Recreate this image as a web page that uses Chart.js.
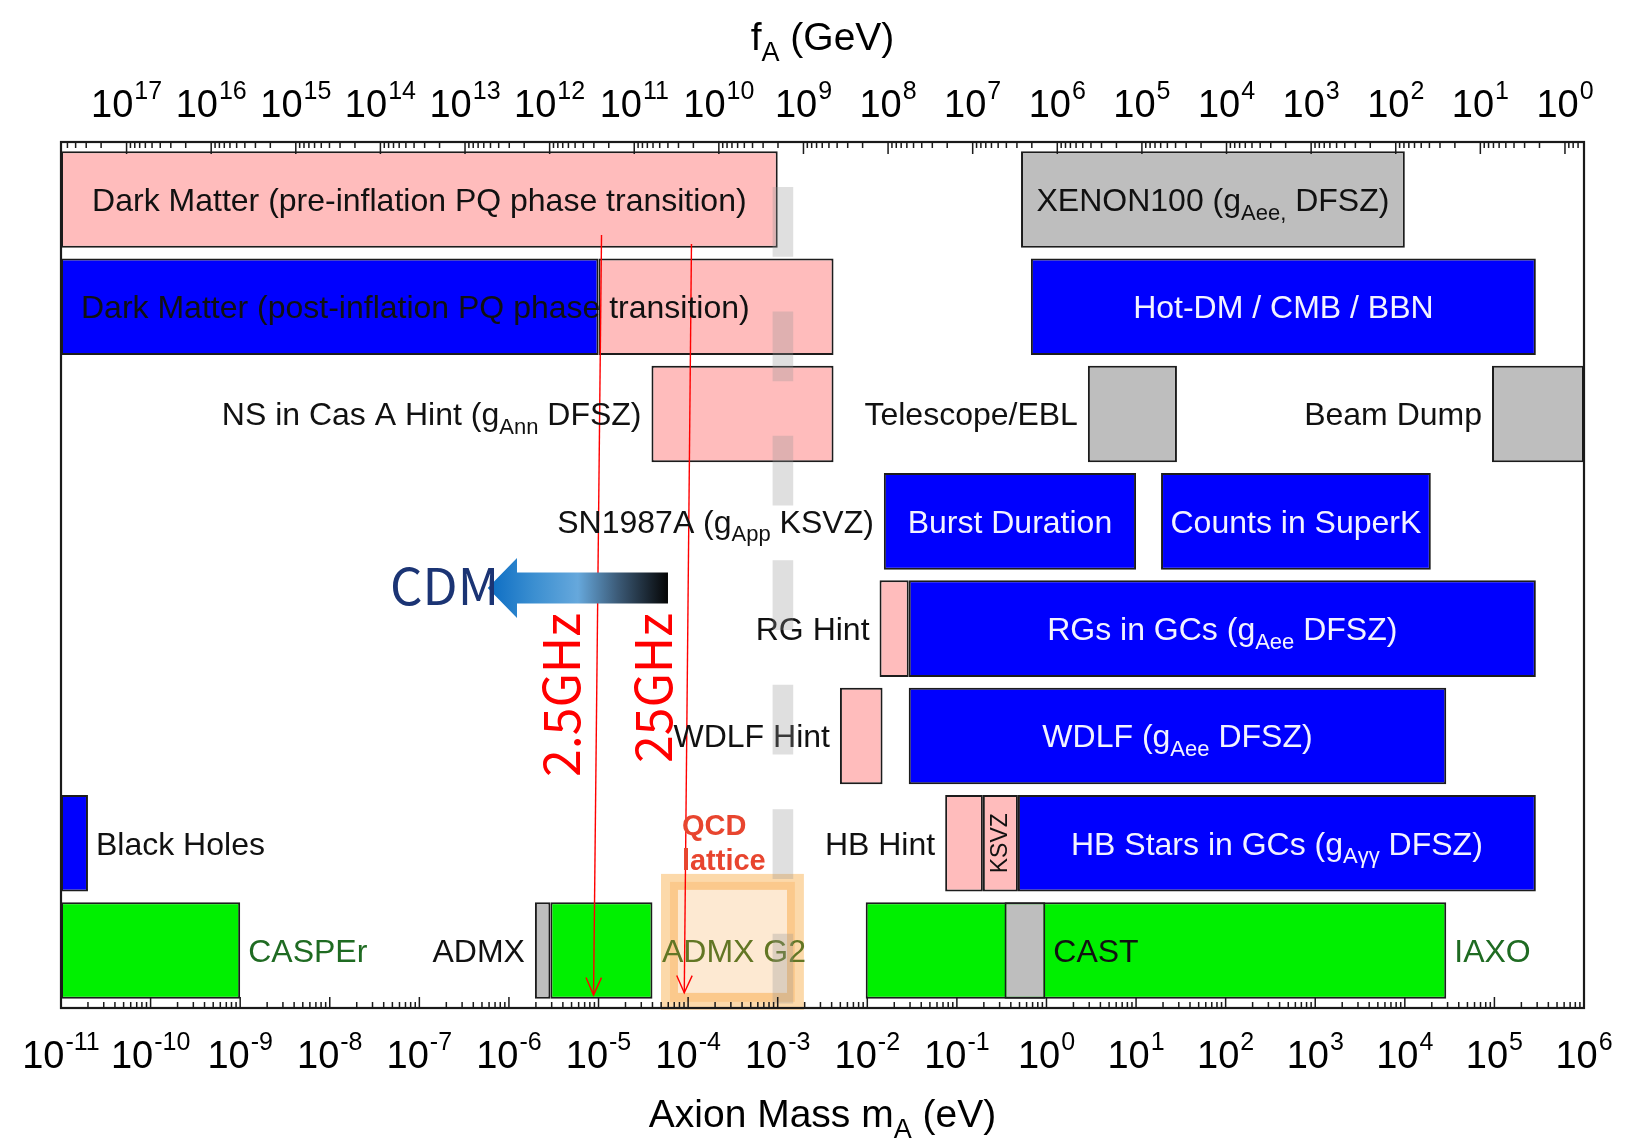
<!DOCTYPE html>
<html><head><meta charset="utf-8">
<script src="https://cdn.jsdelivr.net/npm/chart.js@4.4.1/dist/chart.umd.min.js"></script>
<style>html,body{margin:0;padding:0;background:#fff;}canvas{display:block;}</style>
</head><body>
<canvas id="c" width="1626" height="1146"></canvas>
<script>
// ---------------- DATA ----------------
const rowNames = ['Dark matter (pre-inflation) / XENON100', 'Dark matter (post-inflation) / Hot-DM', 'NS Cas A / Telescope / Beam dump', 'SN1987A', 'Red giants', 'White dwarfs', 'Black holes / HB stars', 'Haloscopes / helioscopes'];

const barNames = ['DM pre-inflation', 'XENON100', 'DM post-inflation (excluded)', 'DM post-inflation', 'Hot-DM / CMB / BBN', 'NS in Cas A Hint', 'Telescope/EBL', 'Beam Dump', 'Burst Duration', 'Counts in SuperK', 'RG Hint', 'RGs in GCs', 'WDLF Hint', 'WDLF', 'Black Holes', 'HB Hint', 'HB Hint KSVZ', 'HB Stars in GCs', 'CASPEr', 'ADMX', 'ADMX (projected)', 'IAXO', 'CAST'];
const barRow  = [0, 0, 1, 1, 1, 2, 2, 2, 3, 3, 4, 4, 5, 5, 6, 6, 6, 6, 7, 7, 7, 7, 7];
const barFrom = [1e-11, 0.52, 1e-11, 1e-5, 0.67, 3.9e-5, 2.9, 9.4e4, 0.0153, 19, 0.0137, 0.029, 4.95e-3, 0.029, 1e-11, 0.074, 0.195, 0.48, 1e-11, 1.95e-6, 2.9e-6, 0.0096, 0.34];
const barTo   = [1e-3, 1e4, 1e-5, 4.2e-3, 2.9e5, 4.2e-3, 28.6, 1e6, 10, 1.95e4, 0.029, 2.9e5, 0.0148, 2.9e4, 2e-11, 0.195, 0.48, 2.9e5, 1e-9, 2.9e-6, 4e-5, 2.9e4, 0.97];
const barKind = ['dm', 'lab', 'excl', 'dm', 'excl', 'hint', 'lab', 'lab', 'excl', 'excl', 'hint', 'excl', 'hint', 'excl', 'excl', 'hint', 'hint', 'excl', 'future', 'lab', 'future', 'future', 'lab'];

const labelText = ['Dark Matter (pre-inflation PQ phase transition)', 'XENON100 (g_{Aee,} DFSZ)', 'Dark Matter (post-inflation PQ phase transition)', 'Hot-DM / CMB / BBN', 'NS in Cas A Hint (g_{Ann} DFSZ)', 'Telescope/EBL', 'Beam Dump', 'SN1987A (g_{App} KSVZ)', 'Burst Duration', 'Counts in SuperK', 'RG Hint', 'RGs in GCs (g_{Aee} DFSZ)', 'WDLF Hint', 'WDLF (g_{Aee} DFSZ)', 'Black Holes', 'HB Hint', 'KSVZ', 'HB Stars in GCs (g_{Aγγ} DFSZ)', 'CASPEr', 'ADMX', 'CAST', 'IAXO'];
const labelBar  = [0, 1, 2, 4, 5, 6, 7, 8, 8, 9, 10, 11, 12, 13, 14, 15, 16, 17, 18, 19, 22, 21];

const massTickExps = [-11, -10, -9, -8, -7, -6, -5, -4, -3, -2, -1, 0, 1, 2, 3, 4, 5, 6];
const faTickExps = [17, 16, 15, 14, 13, 12, 11, 10, 9, 8, 7, 6, 5, 4, 3, 2, 1, 0];

const freqLabels = ['2.5GHz', '25GHz'];
const freqMassTop = [1.08e-5, 1.09e-4];
const freqMassBottom = [8.8e-6, 9.06e-5];

// ---------------- LAYOUT / STYLE ----------------
const FONT = '"Liberation Sans", Arial, Helvetica, sans-serif';
const CJK = '"Noto Sans CJK JP", "Noto Sans", sans-serif';
const kindColors = { dm: '#ffbcbc', hint: '#ffbcbc', excl: '#0000fe', lab: '#bebebe', future: '#00f000' };
const labelPlace = ['in', 'in', 'inLeft', 'in', 'left', 'left', 'left', 'left', 'in', 'in', 'left', 'in', 'left', 'in', 'right', 'left', 'vert', 'in', 'right', 'left', 'right', 'right'];
const labelTone  = ['dark', 'dark', 'dark', 'light', 'dark', 'dark', 'dark', 'dark', 'light', 'light', 'dark', 'light', 'dark', 'light', 'dark', 'dark', 'dark', 'light', 'green', 'dark', 'dark', 'green'];
const toneColor = { dark: '#111111', light: '#f3f3ff', green: '#1f6b22' };
const overlayBars = [22];
const freqRowTop = [0.331, 0.415], freqRowBottom = [7.414, 7.395];
const freqTextMass = [6.2e-6, 6.6e-5], freqTextRowEnd = 3.854;
const cdmArrow = { tip: 5.8e-7, headBack: 1.23e-6, tail: 5.96e-5, row: 3.621, headHalf: 0.28, shaftHalf: 0.144 };
const cdmText = { mass: 1.91e-7, row: 3.779 };
const qcdBox = { from: 4.98e-5, to: 1.96e-3, rowTop: 6.286, rowBottom: 7.553, innerFrom: 7.7e-5, innerTo: 1.27e-3, innerTop: 6.435, innerBottom: 7.395 };
const qcdText = { mass: 8.53e-5, row1: 5.923, row2: 6.249 };
const bandMass = [8.77e-4, 1.49e-3], bandStartRow = -0.117, bandDash = 0.65, bandGap = 0.51;

// ---------------- HELPERS ----------------
function parseRich(s) {
  const out = []; const re = /_\{([^}]*)\}/g; let last = 0, m;
  while ((m = re.exec(s))) {
    if (m.index > last) out.push({ t: s.slice(last, m.index), sub: false });
    out.push({ t: m[1], sub: true }); last = re.lastIndex;
  }
  if (last < s.length) out.push({ t: s.slice(last), sub: false });
  return out;
}
function drawRich(ctx, s, x, y, align, size, color, family) {
  const segs = parseRich(s); const subSize = Math.round(size * 0.7);
  const f = sb => `${sb ? subSize : size}px ${family || FONT}`;
  let w = 0;
  segs.forEach(sg => { ctx.font = f(sg.sub); sg.w = ctx.measureText(sg.t).width; w += sg.w; });
  let cx = align === 'center' ? x - w / 2 : align === 'right' ? x - w : x;
  ctx.fillStyle = color; ctx.textAlign = 'left'; ctx.textBaseline = 'alphabetic';
  segs.forEach(sg => { ctx.font = f(sg.sub); ctx.fillText(sg.t, cx, y + (sg.sub ? size * 0.27 : 0)); cx += sg.w; });
}
// "10" with a raised exponent, centred on x
function drawPow(ctx, x, baseline, exp, size) {
  const es = Math.round(size * 0.66), e = String(exp);
  ctx.font = `${size}px ${FONT}`; const wb = ctx.measureText('10').width;
  ctx.font = `${es}px ${FONT}`; const we = ctx.measureText(e).width;
  const start = x - (wb + 1 + we) / 2;
  ctx.fillStyle = '#000'; ctx.textAlign = 'left'; ctx.textBaseline = 'alphabetic';
  ctx.font = `${size}px ${FONT}`; ctx.fillText('10', start, baseline);
  ctx.font = `${es}px ${FONT}`; ctx.fillText(e, start + wb + 1, baseline - size * 0.47);
}

// ---------------- DATASETS ----------------
const datasets = [];
freqLabels.forEach((name, i) => datasets.push({
  type: 'line', label: name, indexAxis: 'x', xAxisID: 'x', yAxisID: 'y',
  data: [{ x: freqMassTop[i], y: freqRowTop[i] }, { x: freqMassBottom[i], y: freqRowBottom[i] }],
  borderColor: '#ff0000', borderWidth: 1.4, pointRadius: 0, fill: false, tension: 0, order: 0
}));
barNames.forEach((name, i) => datasets.push({
  type: 'bar', label: name, indexAxis: 'y', xAxisID: 'x', yAxisID: 'y',
  data: [{ y: barRow[i], x: [barFrom[i], barTo[i]] }],
  backgroundColor: kindColors[barKind[i]], borderColor: '#1c1c1c', borderWidth: 2, borderSkipped: false,
  grouped: false, barPercentage: 0.9, categoryPercentage: 1, order: overlayBars.includes(i) ? 1 : 2
}));

// ---------------- PLUGIN ----------------
const decor = {
  id: 'decor',
  beforeDatasetsDraw(chart) {
    const ctx = chart.ctx, X = chart.scales.x, Y = chart.scales.y, a = chart.chartArea;
    const px = v => X.getPixelForValue(v), py = v => Y.getPixelForValue(v);
    ctx.save();
    ctx.beginPath(); ctx.rect(a.left, a.top, a.right - a.left, a.bottom - a.top + 3); ctx.clip();
    const x0 = px(qcdBox.from), x1 = px(qcdBox.to), y0 = py(qcdBox.rowTop), y1 = py(qcdBox.rowBottom);
    const ix0 = px(qcdBox.innerFrom), ix1 = px(qcdBox.innerTo), iy0 = py(qcdBox.innerTop), iy1 = py(qcdBox.innerBottom);
    ctx.fillStyle = '#fcd9aa'; ctx.fillRect(x0, y0, x1 - x0, y1 - y0);
    ctx.fillStyle = '#fbc98c'; ctx.fillRect(x0 + 9, y0 + 8, x1 - x0 - 18, y1 - y0 - 16);
    ctx.fillStyle = '#fde9d2'; ctx.fillRect(ix0, iy0, ix1 - ix0, iy1 - iy0);
    ctx.restore();
    ctx.save();
    drawRich(ctx, 'ADMX G2', px(qcdBox.from) + 1, py(7) + 11.4, 'left', 32, '#627624');
    ctx.restore();
  },
  afterDatasetsDraw(chart) {
    const ctx = chart.ctx, X = chart.scales.x, Y = chart.scales.y, T = chart.scales.x2, a = chart.chartArea;
    const px = v => X.getPixelForValue(v), py = v => Y.getPixelForValue(v);
    const rowPx = py(1) - py(0);
    ctx.save();
    // bar labels
    labelText.forEach((txt, i) => {
      const b = labelBar[i], xs = px(barFrom[b]), xe = px(barTo[b]), yc = py(barRow[b]);
      const col = toneColor[labelTone[i]], pl = labelPlace[i], size = 32, yb = yc + 11.4;
      if (pl === 'in') drawRich(ctx, txt, (xs + xe) / 2, yb, 'center', size, col);
      else if (pl === 'inLeft') drawRich(ctx, txt, xs + 20, yb, 'left', size, col);
      else if (pl === 'left') drawRich(ctx, txt, xs - 10, yb, 'right', size, col);
      else if (pl === 'right') drawRich(ctx, txt, xe + 8, yb, 'left', size, col);
      else if (pl === 'vert') {
        ctx.save(); ctx.translate((xs + xe) / 2, yc); ctx.rotate(-Math.PI / 2);
        ctx.font = `23px ${FONT}`; ctx.fillStyle = col; ctx.textAlign = 'center'; ctx.textBaseline = 'middle';
        ctx.fillText(txt, 0, 0); ctx.restore();
      }
    });
    // grey dashed band
    ctx.save();
    ctx.beginPath(); ctx.rect(a.left, a.top, a.right - a.left, a.bottom - a.top); ctx.clip();
    const bx0 = px(bandMass[0]), bx1 = px(bandMass[1]);
    ctx.strokeStyle = 'rgba(150,150,150,0.3)'; ctx.lineWidth = bx1 - bx0;
    ctx.setLineDash([bandDash * rowPx, bandGap * rowPx]);
    ctx.beginPath(); ctx.moveTo((bx0 + bx1) / 2, py(bandStartRow)); ctx.lineTo((bx0 + bx1) / 2, a.bottom); ctx.stroke();
    ctx.restore();
    // arrowheads on frequency lines
    ctx.strokeStyle = '#ff0000'; ctx.lineWidth = 1.4;
    freqLabels.forEach((n, i) => {
      const tx = px(freqMassBottom[i]), ty = py(freqRowBottom[i]);
      const sx = px(freqMassTop[i]), sy = py(freqRowTop[i]);
      const ang = Math.atan2(ty - sy, tx - sx), L = 19, W = 0.42;
      ctx.beginPath();
      ctx.moveTo(tx - L * Math.cos(ang - W), ty - L * Math.sin(ang - W));
      ctx.lineTo(tx, ty);
      ctx.lineTo(tx - L * Math.cos(ang + W), ty - L * Math.sin(ang + W));
      ctx.stroke();
    });
    // frequency labels
    freqLabels.forEach((n, i) => {
      ctx.save(); ctx.translate(px(freqTextMass[i]), py(freqTextRowEnd)); ctx.rotate(-Math.PI / 2);
      ctx.font = `50px ${CJK}`; ctx.fillStyle = '#ff0000'; ctx.textAlign = 'right'; ctx.textBaseline = 'alphabetic';
      ctx.fillText(n, 0, 0); ctx.restore();
    });
    // CDM arrow
    const tip = px(cdmArrow.tip), back = px(cdmArrow.headBack), tail = px(cdmArrow.tail), cy = py(cdmArrow.row);
    const hh = cdmArrow.headHalf * rowPx, sh = cdmArrow.shaftHalf * rowPx;
    const g = ctx.createLinearGradient(tip, 0, tail, 0);
    g.addColorStop(0, '#0b6cc3'); g.addColorStop(0.25, '#3a8ed0'); g.addColorStop(0.5, '#66a8dc');
    g.addColorStop(0.72, '#3c5b78'); g.addColorStop(1, '#050505');
    ctx.fillStyle = g; ctx.beginPath();
    ctx.moveTo(tip, cy); ctx.lineTo(back, cy - hh); ctx.lineTo(back, cy - sh); ctx.lineTo(tail, cy - sh);
    ctx.lineTo(tail, cy + sh); ctx.lineTo(back, cy + sh); ctx.lineTo(back, cy + hh); ctx.closePath(); ctx.fill();
    ctx.font = `51px ${CJK}`; ctx.fillStyle = '#1b3474'; ctx.textAlign = 'center'; ctx.textBaseline = 'alphabetic';
    ctx.fillText('CDM', px(cdmText.mass), py(cdmText.row));
    // QCD lattice text
    ctx.font = `bold 29px ${FONT}`; ctx.fillStyle = '#e8452f'; ctx.textAlign = 'left';
    ctx.fillText('QCD', px(qcdText.mass), py(qcdText.row1));
    ctx.fillText('lattice', px(qcdText.mass), py(qcdText.row2));
    // frame
    ctx.strokeStyle = '#1a1a1a'; ctx.lineWidth = 2.2;
    ctx.strokeRect(a.left, a.top, a.right - a.left, a.bottom - a.top);
    // tick marks: bottom (mass, log) and top (fA)
    ctx.lineWidth = 1.5; ctx.beginPath();
    X.ticks.forEach(t => {
      const e = Math.round(Math.log10(t.value));
      const xm = px(t.value); ctx.moveTo(xm, a.bottom); ctx.lineTo(xm, a.bottom - 11);
      if (e < 6) for (let k = 2; k <= 9; k++) { const xx = px(k * t.value); ctx.moveTo(xx, a.bottom); ctx.lineTo(xx, a.bottom - 6); }
    });
    for (let n = -1; n <= 17; n++) {
      if (n >= 0) { const xm = T.getPixelForValue(n); ctx.moveTo(xm, a.top); ctx.lineTo(xm, a.top + 12); }
      for (let k = 2; k <= 9; k++) {
        const v = n + Math.log10(k);
        if (v < T.min || v > T.max) continue;
        const xx = T.getPixelForValue(v); ctx.moveTo(xx, a.top); ctx.lineTo(xx, a.top + 6);
      }
    }
    ctx.stroke();
    // tick labels (powers of ten with raised exponents) at the scales' ticks
    X.ticks.forEach(t => drawPow(ctx, px(t.value), a.bottom + 60, Math.round(Math.log10(t.value)), 38));
    T.ticks.forEach(t => drawPow(ctx, T.getPixelForValue(t.value), a.top - 25, Math.round(t.value), 38));
    // axis titles
    const cx = (a.left + a.right) / 2;
    drawRich(ctx, 'f_{A} (GeV)', cx, a.top - 92, 'center', 39, '#000');
    drawRich(ctx, 'Axion Mass m_{A} (eV)', cx, a.bottom + 119, 'center', 39, '#000');
    ctx.restore();
  }
};

// ---------------- CHART ----------------
new Chart(document.getElementById('c'), {
  data: { datasets },
  options: {
    responsive: false, animation: false, devicePixelRatio: 1,
    layout: { padding: { left: 61, right: 42, top: 0, bottom: 0 } },
    plugins: { legend: { display: false }, tooltip: { enabled: false } },
    scales: {
      x: {
        type: 'logarithmic', position: 'bottom', min: 1e-11, max: 1e6,
        grid: { display: false, drawTicks: false }, border: { display: false },
        afterBuildTicks: s => { s.ticks = massTickExps.map(e => ({ value: Math.pow(10, e) })); },
        afterFit: s => { s.height = 138; s.paddingLeft = 0; s.paddingRight = 0; },
        ticks: { display: false, autoSkip: false, maxRotation: 0 }
      },
      x2: {
        type: 'linear', position: 'top', min: -0.225, max: 17.775, reverse: true,
        grid: { display: false, drawTicks: false }, border: { display: false },
        afterBuildTicks: s => { s.ticks = faTickExps.map(e => ({ value: e })); },
        afterFit: s => { s.height = 142; s.paddingLeft = 0; s.paddingRight = 0; },
        ticks: { display: false, autoSkip: false, maxRotation: 0 }
      },
      y: {
        type: 'linear', min: -0.536, max: 7.536, reverse: true, display: false, offset: false,
        afterBuildTicks: s => { s.ticks = rowNames.map((_, i) => ({ value: i })); }
      }
    }
  },
  plugins: [decor]
});
</script>
</body></html>
